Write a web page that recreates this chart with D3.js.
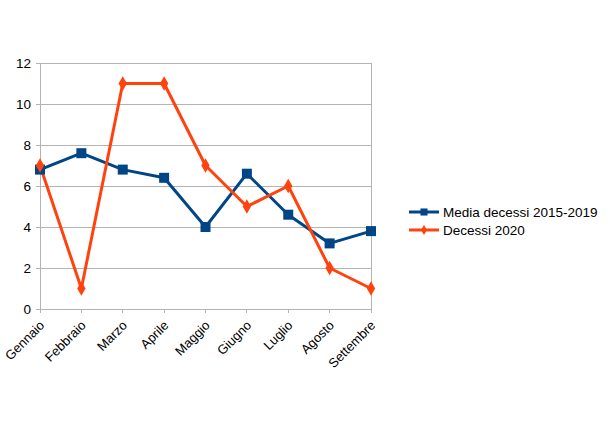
<!DOCTYPE html>
<html><head><meta charset="utf-8">
<script src="https://cdn.jsdelivr.net/npm/d3@7"></script>
<style>body{margin:0;background:#fff}svg{display:block}text{font-family:"Liberation Sans",Arial,sans-serif}</style>
</head><body><svg id="c" width="610" height="431"></svg>
<script>
const categories = ["Gennaio","Febbraio","Marzo","Aprile","Maggio","Giugno","Luglio","Agosto","Settembre"];
const media = [6.8, 7.6, 6.8, 6.4, 4.0, 6.6, 4.6, 3.2, 3.8];
const decessi2020 = [7, 1, 11, 11, 7, 5, 6, 2, 1];
const yTicks = [0, 2, 4, 6, 8, 10, 12];
const seriesNames = ["Media decessi 2015-2019", "Decessi 2020"];

const svg = d3.select("#c");
const L = 40, R = 371, T = 63, B = 309;
const x = d3.scalePoint().domain(categories).range([L, R]);
const y = d3.scaleLinear().domain([0, 12]).range([B, T]);

// gridlines
svg.append("g").selectAll("line").data(yTicks).join("line")
  .attr("x1", L - 4).attr("x2", R).attr("y1", d => y(d)).attr("y2", d => y(d))
  .attr("stroke", "#b3b3b3").attr("stroke-width", 1).attr("shape-rendering", "crispEdges");
// axes lines
svg.append("line").attr("x1", L).attr("x2", L).attr("y1", T).attr("y2", B + 4)
  .attr("stroke", "#b3b3b3").attr("shape-rendering", "crispEdges");
svg.append("line").attr("x1", R).attr("x2", R).attr("y1", T).attr("y2", B + 4)
  .attr("stroke", "#b3b3b3").attr("shape-rendering", "crispEdges");
svg.append("g").selectAll("line").data(categories).join("line")
  .attr("x1", d => x(d)).attr("x2", d => x(d)).attr("y1", B).attr("y2", B + 4)
  .attr("stroke", "#b3b3b3").attr("shape-rendering", "crispEdges");

// y labels
svg.append("g").selectAll("text").data(yTicks).join("text")
  .attr("x", L - 9).attr("y", d => y(d)).attr("dy", "0.35em")
  .attr("text-anchor", "end").attr("font-size", 13.5).attr("fill", "#000").text(d => d);

// x labels rotated
svg.append("g").selectAll("text").data(categories).join("text")
  .attr("transform", d => `translate(${x(d) + 2},${B + 14}) rotate(-45)`)
  .attr("text-anchor", "end").attr("dy", "0.35em").attr("font-size", 13).attr("fill", "#000").text(d => d);

const line = d3.line().x((d, i) => x(categories[i])).y(d => y(d));
const colors = ["#004586", "#ff420e"];

svg.append("path").datum(media).attr("d", line).attr("fill", "none")
  .attr("stroke", colors[0]).attr("stroke-width", 3).attr("stroke-linejoin", "round");
svg.append("path").datum(decessi2020).attr("d", line).attr("fill", "none")
  .attr("stroke", colors[1]).attr("stroke-width", 3).attr("stroke-linejoin", "round");

const sq = d3.symbol().type(d3.symbolSquare).size(100);
const dm = d3.symbol().type(d3.symbolDiamond).size(60);
svg.append("g").selectAll("path").data(media).join("path")
  .attr("d", sq).attr("transform", (d, i) => `translate(${x(categories[i])},${y(d)})`).attr("fill", colors[0]);
svg.append("g").selectAll("path").data(decessi2020).join("path")
  .attr("d", dm).attr("transform", (d, i) => `translate(${x(categories[i])},${y(d)})`).attr("fill", colors[1]);

// legend
const lg = svg.append("g");
seriesNames.forEach((n, i) => {
  const ly = 212 + i * 18;
  lg.append("line").attr("x1", 409).attr("x2", 439).attr("y1", ly).attr("y2", ly)
    .attr("stroke", colors[i]).attr("stroke-width", 3);
  lg.append("path").attr("d", i === 0 ? d3.symbol().type(d3.symbolSquare).size(50)() : d3.symbol().type(d3.symbolDiamond).size(30)())
    .attr("transform", `translate(424,${ly})`).attr("fill", colors[i]);
  lg.append("text").attr("x", 443).attr("y", ly).attr("dy", "0.35em").attr("font-size", 13.5)
    .attr("fill", "#000").text(n);
});
</script></body></html>
